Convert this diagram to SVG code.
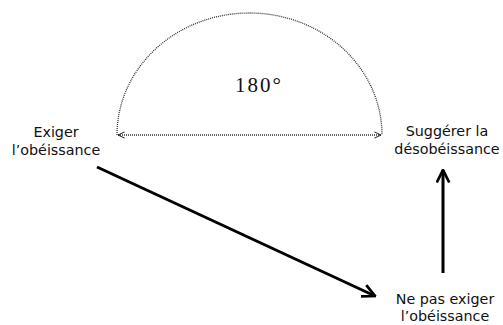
<svg xmlns="http://www.w3.org/2000/svg" width="503" height="325" viewBox="0 0 503 325">
<style>
.lbl{font-family:"DejaVu Sans","Liberation Sans",sans-serif;font-size:14.3px;fill:#111;text-anchor:middle}
.deg{font-family:"Liberation Serif",serif;font-size:21px;letter-spacing:2px;fill:#111;text-anchor:middle}
.thick{stroke:#000;stroke-width:3;fill:none}
.dot{stroke:#333;stroke-width:1.3;fill:none;stroke-dasharray:1 1}
</style>
<defs>
<marker id="big" viewBox="0 0 12 12" refX="11" refY="6" markerWidth="5" markerHeight="5" orient="auto" markerUnits="strokeWidth">
<path d="M1,1 L11,6 L1,11" fill="none" stroke="#000" stroke-width="2.2"/>
</marker>
<marker id="small" viewBox="0 0 10 10" refX="9.5" refY="5" markerWidth="6" markerHeight="6" orient="auto-start-reverse" markerUnits="strokeWidth">
<path d="M1,1 L9.5,5 L1,9" fill="none" stroke="#222" stroke-width="1.3"/>
</marker>
</defs>
<g id="angle">
<path class="dot" d="M117,135 A132.5,122 0 0 1 382,135"/>
<text class="deg" x="259" y="92">180°</text>
</g>
<g id="n-exiger">
<text class="lbl" x="56" y="137">Exiger</text>
<text class="lbl" x="56" y="155">l’obéissance</text>
</g>
<g id="n-suggerer">
<text class="lbl" x="447" y="136">Suggérer la</text>
<text class="lbl" x="447" y="154">désobéissance</text>
</g>
<g id="n-nepas">
<text class="lbl" x="445" y="304">Ne pas exiger</text>
<text class="lbl" x="445" y="321">l’obéissance</text>
</g>
<g id="connectors">
<line class="dot" x1="118" y1="135" x2="381" y2="135" marker-start="url(#small)" marker-end="url(#small)"/>
<line class="thick" x1="97" y1="167" x2="375" y2="296" marker-end="url(#big)"/>
<line class="thick" x1="443" y1="273" x2="443" y2="170" marker-end="url(#big)"/>
</g>
</svg>
